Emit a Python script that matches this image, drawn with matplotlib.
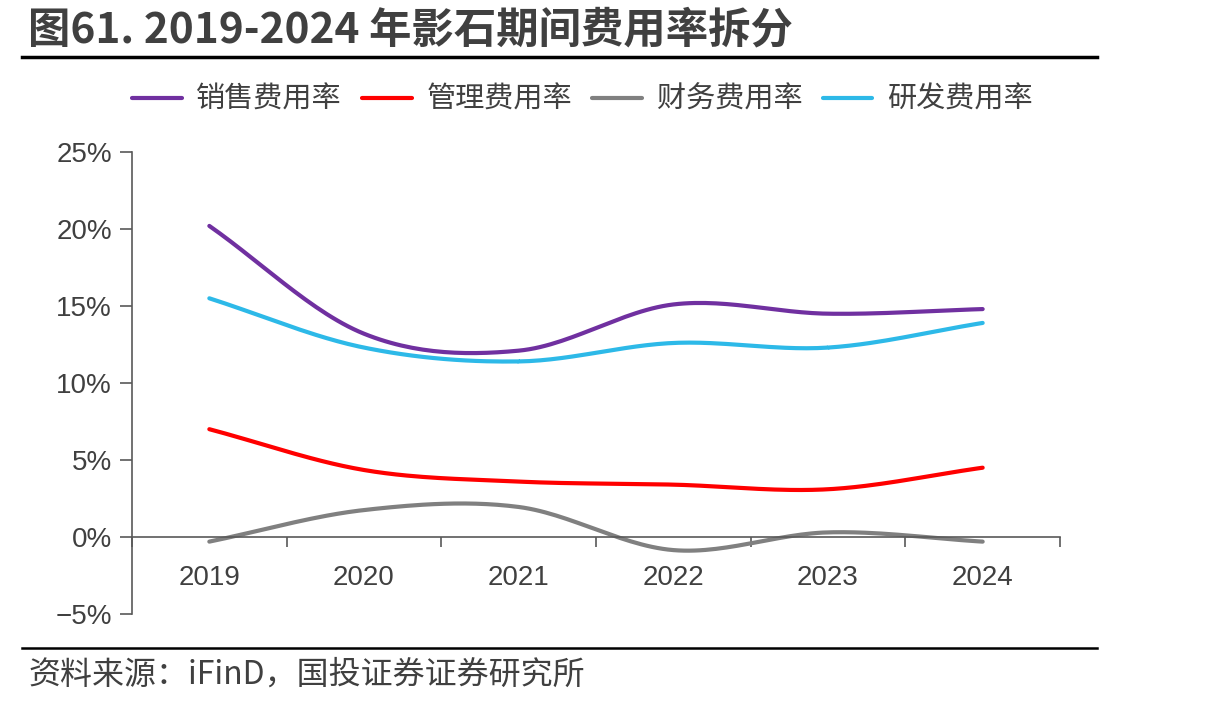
import matplotlib
matplotlib.use("Agg")
import matplotlib.pyplot as plt
import numpy as np
from matplotlib import font_manager
from matplotlib.ticker import FixedLocator, FuncFormatter

# data (%)
years = ["2019", "2020", "2021", "2022", "2023", "2024"]
sales = [20.2, 13.2, 12.1, 15.1, 14.5, 14.8]
admin = [7.0, 4.35, 3.6, 3.4, 3.1, 4.5]
finance = [-0.3, 1.75, 1.95, -0.85, 0.3, -0.3]
rnd = [15.5, 12.3, 11.4, 12.6, 12.3, 13.9]

names = ["销售费用率", "管理费用率", "财务费用率", "研发费用率"]
colors = ["#7030A0", "#FF0000", "#808080", "#2DB9E8"]

cjk = ["Noto Sans CJK SC", "DejaVu Sans"]
have = {f.name for f in font_manager.fontManager.ttflist}
num_font = "Liberation Sans Narrow" if "Liberation Sans Narrow" in have else "Liberation Sans"


def smooth(y, n=30):
    # catmull-rom curve through the points, like Excel "smoothed line"
    y = np.asarray(y, float)
    x = np.arange(len(y), dtype=float)
    px = np.concatenate([[2 * x[0] - x[1]], x, [2 * x[-1] - x[-2]]])
    py = np.concatenate([[2 * y[0] - y[1]], y, [2 * y[-1] - y[-2]]])
    xs, ys = [], []
    t = np.linspace(0, 1, n)
    for i in range(1, len(px) - 2):
        for p, out in ((px, xs), (py, ys)):
            p0, p1, p2, p3 = p[i - 1], p[i], p[i + 1], p[i + 2]
            out.extend(0.5 * (2 * p1 + (-p0 + p2) * t
                              + (2 * p0 - 5 * p1 + 4 * p2 - p3) * t ** 2
                              + (-p0 + 3 * p1 - 3 * p2 + p3) * t ** 3))
    return np.array(xs), np.array(ys)


fig = plt.figure(figsize=(12.15, 7.06), dpi=100)
ax = fig.add_axes([132 / 1215, 1 - 614 / 706, 928 / 1215, 462 / 706])

for vals, name, c in zip([sales, admin, finance, rnd], names, colors):
    sx, sy = smooth(vals)
    ax.plot(sx, sy, color=c, lw=3, label=name, solid_capstyle="round")

ax.set_xlim(-0.5, len(years) - 0.5)
ax.set_ylim(-5, 25)
ax.set_yticks([-5, 0, 5, 10, 15, 20, 25])
ax.yaxis.set_major_formatter(FuncFormatter(lambda v, p: f"{v:.0f}%".replace("-", "\u2212")))

ax.spines["top"].set_visible(False)
ax.spines["right"].set_visible(False)
ax.spines["bottom"].set_position(("data", 0))
for s in ("left", "bottom"):
    ax.spines[s].set_color("#595959")
    ax.spines[s].set_linewidth(1.2)

ax.xaxis.set_major_locator(FixedLocator(np.arange(-0.5, len(years), 1.0)))
ax.xaxis.set_minor_locator(FixedLocator(np.arange(len(years))))
ax.set_xticklabels([], minor=False)
ax.set_xticklabels(years, minor=True)
ax.tick_params(axis="x", which="major", direction="out", length=7, width=1.2, color="#595959")
ax.tick_params(axis="x", which="minor", length=0, pad=20, labelsize=20, labelcolor="#404040")
ax.tick_params(axis="y", direction="out", length=8.5, width=1.2, color="#595959",
               pad=6, labelsize=20, labelcolor="#404040")
for lab in ax.get_xticklabels(minor=True) + ax.get_yticklabels():
    lab.set_family(num_font)

leg = ax.legend(loc="center left", ncol=4, frameon=False,
                prop={"family": cjk, "size": 21}, handlelength=1.7, handletextpad=0.5,
                columnspacing=0.7, borderaxespad=0, borderpad=0)
leg.set_bbox_to_anchor((132 / 1215, 1 - 100 / 706), transform=fig.transFigure)
for t in leg.get_texts():
    t.set_color("#404040")

fig.text(28 / 1215, 1 - 30 / 706, "图61. 2019-2024 年影石期间费用率拆分", family=cjk,
         fontsize=30.5, fontweight="bold", color="#404040", va="center", ha="left")
fig.add_artist(plt.Line2D([22 / 1215, 1097 / 1215], [1 - 57 / 706] * 2, color="black", lw=2.5))
fig.add_artist(plt.Line2D([22 / 1215, 1097 / 1215], [1 - 648 / 706] * 2, color="black", lw=1.8))
fig.text(28 / 1215, 1 - 675 / 706, "资料来源：iFinD，国投证券证券研究所", family=cjk,
         fontsize=23, style="italic", color="#404040", va="center", ha="left")

fig.savefig("out.png", dpi=100)
